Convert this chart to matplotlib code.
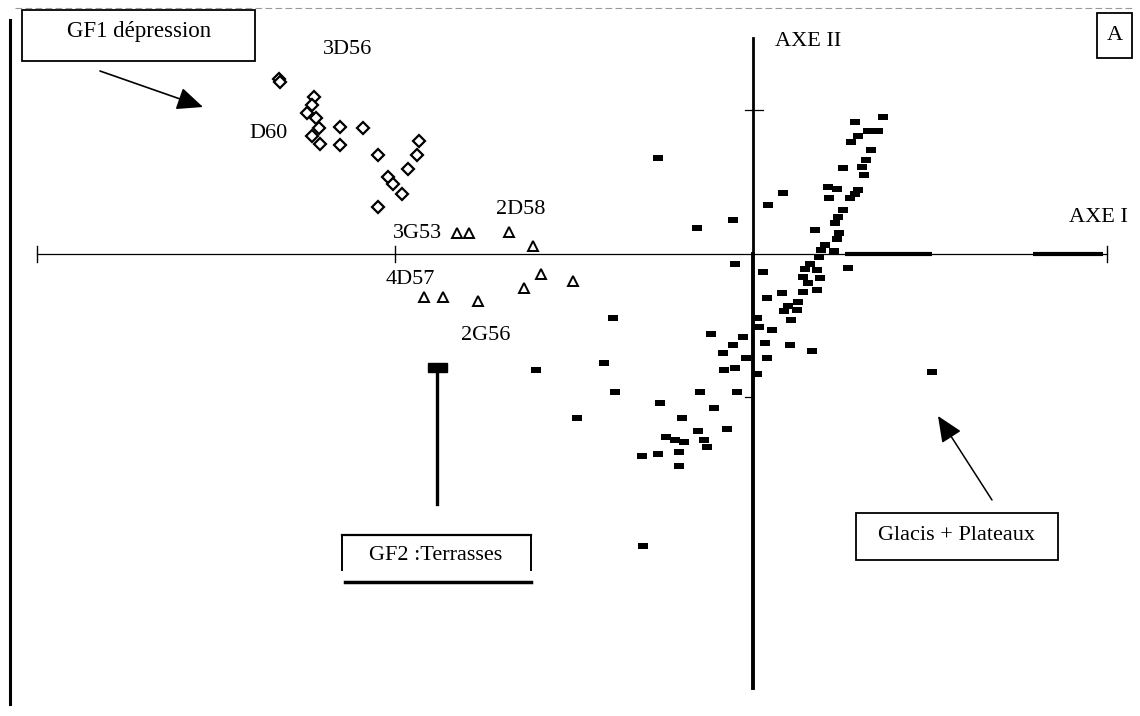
import matplotlib
matplotlib.use("Agg")
import matplotlib.pyplot as plt
from matplotlib.patches import Rectangle
from matplotlib.path import Path

# ---------------- data (factor scores, AXE I / AXE II) ----------------
# GF1 : dépression (open diamonds)
gf1_x = [-1.324, -1.321, -1.226, -1.232, -1.246, -1.221, -1.212, -1.232, -1.209,
         -1.154, -1.154, -1.089, -1.047, -1.020, -1.006, -0.980, -0.964, -0.939,
         -0.933, -1.047]
gf1_y = [1.220, 1.199, 1.094, 1.038, 0.983, 0.948, 0.878, 0.822, 0.767,
         0.885, 0.760, 0.878, 0.690, 0.537, 0.488, 0.418, 0.592, 0.690,
         0.787, 0.328]

# GF2 : terrasses (open triangles)
gf2_x = [-0.827, -0.793, -0.682, -0.615, -0.592, -0.640, -0.503, -0.919, -0.866, -0.768]
gf2_y = [0.146, 0.146, 0.153, 0.056, -0.139, -0.237, -0.188, -0.300, -0.300, -0.328]

# Glacis + Plateaux (filled squares)
gp_x = [0.363, 0.285, 0.321, 0.349, 0.293, 0.274, 0.330, 0.316, 0.304, 0.310,
        0.251, 0.209, 0.235, 0.212, 0.293, 0.271, 0.285, 0.084, 0.042, 0.251,
        0.237, 0.229, 0.173, 0.240, 0.235, 0.201, 0.190, 0.226, 0.184, 0.265,
        0.159, 0.145, 0.179, 0.140, 0.187, 0.154, 0.179, 0.140, 0.028, 0.081,
        0.039, 0.126, 0.098, 0.123, 0.087, 0.106, 0.011, 0.017, 0.053, -0.028,
        -0.056, -0.084, 0.034, 0.103, 0.165, -0.020, 0.039, -0.050, -0.081, 0.011,
        -0.050, -0.156, -0.056, -0.265, -0.391, -0.117, -0.416, -0.385, -0.148, -0.045,
        -0.260, -0.109, -0.198, -0.492, -0.154, -0.073, -0.243, -0.218, -0.193, -0.137,
        -0.128, -0.310, -0.265, -0.207, -0.207, -0.307, 0.500, -0.606]
gp_y = [0.955, 0.920, 0.857, 0.857, 0.822, 0.780, 0.725, 0.655, 0.606, 0.551,
        0.599, 0.467, 0.453, 0.390, 0.446, 0.390, 0.418, 0.425, 0.341, 0.307,
        0.258, 0.216, 0.167, 0.146, 0.105, 0.063, 0.028, 0.021, -0.021, -0.098,
        -0.070, -0.105, -0.111, -0.160, -0.167, -0.202, -0.251, -0.265, -0.125, -0.272,
        -0.307, -0.334, -0.362, -0.390, -0.397, -0.460, -0.446, -0.509, -0.530, -0.578,
        -0.634, -0.690, -0.620, -0.634, -0.676, -0.725, -0.725, -0.794, -0.808, -0.836,
        -0.070, 0.181, 0.237, 0.669, -0.446, -0.557, -0.760, -0.962, -0.962, -0.962,
        -1.038, -1.073, -1.143, -1.143, -1.233, -1.220, -1.275, -1.296, -1.310, -1.296,
        -1.345, -1.408, -1.394, -1.380, -1.477, -2.035, -0.822, -0.808]

# axes extents and ticks
axe1_range = [-2.0, 0.989]
axe2_range = [-3.024, 1.505]
axe1_ticks = [-2.0, -1.0, 0.989]
axe2_ticks = [1.0, -1.0]
axe1_thick = [(0.257, 0.500), (0.782, 0.978)]

point_labels = ["3D56", "D60", "3G53", "2D58", "4D57", "2G56"]

# ---------------- figure ----------------
SERIF = ["Liberation Serif", "DejaVu Serif"]
fig = plt.figure(figsize=(11.4, 7.16), dpi=100)
fig.patch.set_facecolor("white")

ax = fig.add_axes([0, 0, 1, 1])
ax.set_xlim(-753 / 358, 387 / 358)
ax.set_ylim(-462 / 143.5, 254 / 143.5)
ax.axis("off")

# principal axes
ax.plot(axe1_range, [0, 0], color="black", lw=0.9, zorder=2)
ax.plot([0, 0], [0, axe2_range[1]], color="black", lw=2.0, zorder=2)
ax.plot([0, 0], [axe2_range[0], 0], color="black", lw=2.8, zorder=2)
for t in axe1_ticks:
    ax.plot([t, t], [-0.056, 0.056], color="black", lw=1.0, zorder=2)
ax.plot([-0.022, 0.028], [axe2_ticks[0]] * 2, color="black", lw=0.9, zorder=2)
ax.plot([-0.022, 0.0], [axe2_ticks[1]] * 2, color="black", lw=0.9, zorder=2)
for a, b in axe1_thick:
    ax.plot([a, b], [0, 0], color="black", lw=3.0, solid_capstyle="butt", zorder=2)

# markers
rect = Path([(-1, -0.65), (1, -0.65), (1, 0.65), (-1, 0.65), (-1, -0.65)],
            [Path.MOVETO, Path.LINETO, Path.LINETO, Path.LINETO, Path.CLOSEPOLY])
ax.plot(gp_x, gp_y, ls="none", marker=rect, markersize=6.5,
        color="black", markeredgewidth=0, zorder=3)
ax.plot(gf1_x, gf1_y, ls="none", marker="D", markersize=6.0,
        markerfacecolor="white", markeredgecolor="black", markeredgewidth=1.6, zorder=3)
ax.plot(gf2_x, gf2_y, ls="none", marker="^", markersize=7.2,
        markerfacecolor="white", markeredgecolor="black", markeredgewidth=1.4, zorder=3)

# ---------------- overlay (annotations, pixel coordinates) ----------------
ov = fig.add_axes([0, 0, 1, 1])
ov.set_xlim(0, 1140)
ov.set_ylim(716, 0)
ov.axis("off")
ov.patch.set_alpha(0)

# frame remnants
ov.plot([10, 10], [20, 704], color="black", lw=2.2)
ov.plot([15, 1135], [8, 8], color="0.6", lw=0.8, ls=(0, (6, 3)))

fs = 16
# GF1 box + arrow
ov.add_patch(Rectangle((22, 10), 233, 51, fill=False, lw=1.3, edgecolor="black"))
ov.text(139, 32, "GF1 dépression", ha="center", va="center", fontsize=16.5, family=SERIF)
ov.annotate("", xy=(203, 107), xytext=(100, 71),
            arrowprops=dict(arrowstyle="-|>,head_length=0.8,head_width=0.35",
                            mutation_scale=20, lw=1.2, color="black",
                            shrinkA=0, shrinkB=0))

# GF2 marker + pointer + box
ov.add_patch(Rectangle((428, 363), 19, 9, color="black"))
ov.plot([437, 437], [372, 504], color="black", lw=2.4)
ov.plot([342, 531], [535, 535], color="black", lw=1.6)
ov.plot([342, 342], [535, 570], color="black", lw=1.4)
ov.plot([531, 531], [535, 570], color="black", lw=1.4)
ov.plot([345, 531], [582, 582], color="black", lw=2.5)
ov.text(436, 556, "GF2 :Terrasses", ha="center", va="center", fontsize=fs, family=SERIF)

# Glacis + Plateaux box + arrow
ov.add_patch(Rectangle((856, 513), 202, 47, fill=False, lw=1.3, edgecolor="black"))
ov.text(957, 536, "Glacis + Plateaux", ha="center", va="center", fontsize=fs, family=SERIF)
ov.annotate("", xy=(938, 416), xytext=(992, 500),
            arrowprops=dict(arrowstyle="-|>,head_length=0.8,head_width=0.35",
                            mutation_scale=20, lw=1.1, color="black",
                            shrinkA=0, shrinkB=0))

# panel letter
ov.add_patch(Rectangle((1097, 13), 35, 45, fill=False, lw=1.3, edgecolor="black"))
ov.text(1114.5, 36, "A", ha="center", va="center", fontsize=fs, family=SERIF)

# axis names
ov.text(808, 41, "AXE II", ha="center", va="center", fontsize=fs, family=SERIF)
ov.text(1098, 217, "AXE I", ha="center", va="center", fontsize=fs, family=SERIF)

# point labels
label_pos = [(348, 50), (269, 133), (418, 233), (521, 210), (410, 280), (486, 335)]
for lab, (px, py) in zip(point_labels, label_pos):
    ov.text(px, py, lab, ha="center", va="center", fontsize=fs, family=SERIF)

fig.savefig("out.png", dpi=100, facecolor="white")
